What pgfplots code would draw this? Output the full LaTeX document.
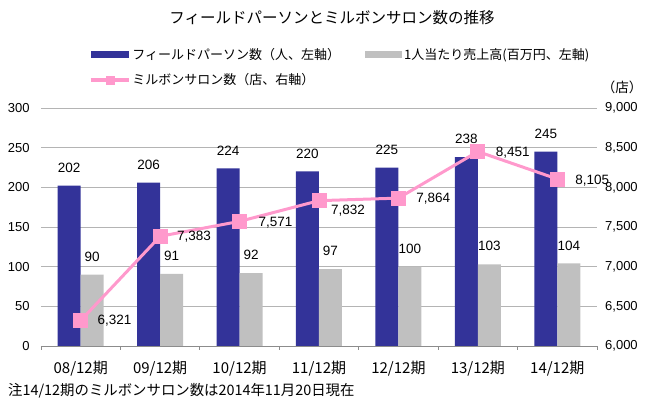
\documentclass[border=0pt]{standalone}
\usepackage{fontspec}
\setmainfont{Liberation Sans}
\newfontfamily\jp{Noto Sans CJK JP}
\usepackage{pgfplots}
\usepackage{pgfplotstable}
\pgfplotsset{compat=1.18}
\definecolor{fpblue}{HTML}{333399}
\definecolor{fpgray}{HTML}{C0C0C0}
\definecolor{fppink}{HTML}{FF99CC}
\definecolor{gridc}{HTML}{B4B4B4}
\definecolor{axisc}{HTML}{8C8C8C}
\pgfplotsset{
  pinkleg/.style={legend image code/.code={\draw[fppink, line width=3.5pt] (0pt,0pt) -- (38pt,0pt); \fill[fppink] (15pt,-4pt) rectangle (23pt,4pt);}},
  blueleg/.style={legend image code/.code={\fill[fpblue] (0pt,-3.5pt) rectangle (38pt,3.5pt);}},
  grayleg/.style={legend image code/.code={\fill[fpgray] (0pt,-3.5pt) rectangle (37pt,3.5pt);}},
}

\pgfplotstableread{
x fp sales
0 202 90
1 206 91
2 224 92
3 220 97
4 225 100
5 238 103
6 245 104
}\bardata

\pgfplotstableread{
x salons label dx dy
0 6321 6,321 17 -0.5
1 7383 7,383 17 0
2 7571 7,571 19 -1
3 7832 7,832 12 -10
4 7864 7,864 18 -1
5 8451 8,451 18 -1.5
6 8105 8,105 18 -2
}\linedata

\begin{document}
\begin{tikzpicture}[x=1pt,y=1pt]
\path[use as bounding box] (0,0) rectangle (649,407);

\node[font=\jp\fontsize{15.5}{18}\selectfont, anchor=center] at (332,389) {フィールドパーソンとミルボンサロン数の推移};
\node[font=\jp\fontsize{13.5}{16}\selectfont, anchor=center] at (622,320) {（店）};
\node[font=\jp\fontsize{14.4}{17}\selectfont, anchor=west, inner sep=0pt] at (8,16) {注14/12期のミルボンサロン数は2014年11月20日現在};

\begin{axis}[
  at={(41pt,61pt)}, anchor=south west,
  scale only axis, width=556pt, height=238pt,
  xmin=-0.5, xmax=6.5, ymin=0, ymax=300,
  ybar=0pt, bar width=23pt,
  /pgf/number format/assume math mode=true,
  axis x line*=bottom, axis y line*=left,
  y axis line style={draw=none},
  x axis line style={draw=axisc, line width=0.8pt},
  ytick={0,50,...,300},
  ytick style={draw=none},
  ymajorgrids, grid style={draw=gridc, line width=0.7pt},
  xtick={0,...,6},
  xticklabels={08/12期,09/12期,10/12期,11/12期,12/12期,13/12期,14/12期},
  major x tick style={draw=none},
  minor xtick={-0.5,0.5,...,6.5},
  minor x tick style={draw=axisc, line width=0.8pt},
  tick align=outside, minor tick length=4pt,
  xticklabel style={font=\jp\fontsize{15}{18}\selectfont, inner sep=0pt, anchor=north, yshift=-11pt},
  yticklabel style={font=\fontsize{13}{15}\selectfont, inner sep=0pt, anchor=east, xshift=-7pt},
  nodes near coords,
  nodes near coords style={font=\fontsize{13.5}{16}\selectfont, anchor=center, yshift=18pt},
  legend columns=2,
  legend cell align=left,
  legend style={draw=none, fill=none, at={(axis description cs:0.0863,1.252)}, anchor=north west,
    inner sep=0pt, outer sep=0pt,
    nodes={inner sep=0pt, font=\jp\fontsize{13}{16}\selectfont},
    /tikz/every odd column/.append style={column sep=2pt},
    /tikz/every even column/.append style={column sep=25pt},
    row sep=13pt},
  clip=false,
]
\addplot[fill=fpblue, draw=none, blueleg] table[x=x, y=fp] {\bardata};
\addlegendentry{フィールドパーソン数（人、左軸）}
\addplot[fill=fpgray, draw=none, grayleg] table[x=x, y=sales] {\bardata};
\addlegendentry{1人当たり売上高(百万円、左軸)}
\addlegendimage{pinkleg}
\addlegendentry{ミルボンサロン数（店、右軸）}
\end{axis}

\begin{axis}[
  at={(41pt,61pt)}, anchor=south west,
  scale only axis, width=556pt, height=238pt,
  xmin=-0.5, xmax=6.5, ymin=6000, ymax=9000,
  /pgf/number format/assume math mode=true,
  /pgf/number format/1000 sep={,},
  scaled y ticks=false,
  axis x line=none, axis y line*=right,
  y axis line style={draw=none},
  ytick={6000,6500,...,9000},
  ytick style={draw=none},
  yticklabel style={font=\fontsize{13}{15}\selectfont, inner sep=0pt, anchor=west, xshift=8pt},
  clip=false,
]
\addplot[fppink, line width=3pt, mark=square*, mark size=7pt,
  mark options={line width=0pt, fill=fppink, draw=fppink},
  point meta=explicit symbolic,
  visualization depends on={\thisrow{dx}\as\mydx},
  visualization depends on={\thisrow{dy}\as\mydy},
  nodes near coords,
  every node near coord/.append style={font=\fontsize{13.5}{16}\selectfont, text=black, anchor=west, inner sep=0pt, xshift=\mydx pt, yshift=\mydy pt},
] table[x=x, y=salons, meta=label] {\linedata};
\end{axis}
\end{tikzpicture}
\end{document}
